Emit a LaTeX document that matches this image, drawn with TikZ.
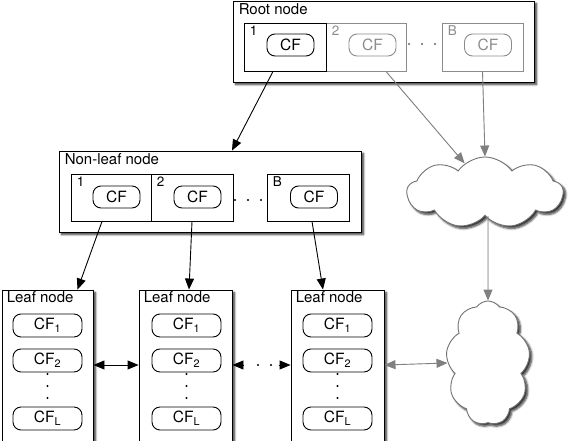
\documentclass[tikz,border=0pt]{standalone}
\usepackage{fontspec}
\setmainfont{TeX Gyre Heros}
\usetikzlibrary{arrows.meta}
\usetikzlibrary{shapes.symbols}
\usetikzlibrary{shadows.blur}
\usetikzlibrary{calc}

\tikzset{
	treenode/.style={draw=black, fill=white, line width=0.9pt, minimum width=#1, inner sep=0pt,
		blur shadow={shadow xshift=2.5pt, shadow yshift=-2.5pt, shadow blur steps=6, shadow opacity=80}},
	slotbox/.style={draw=black, fill=white, line width=0.9pt, minimum height=48pt, inner sep=0pt, minimum width=#1},
	cfbox/.style={draw=black, fill=white, line width=0.9pt, rounded corners=8pt, inner sep=0pt,
		minimum width=47pt, minimum height=22pt, font=\fontsize{15.5}{18}\selectfont},
	leafcf/.style={cfbox, minimum width=69pt, minimum height=23pt},
	titletext/.style={anchor=north west, inner sep=1pt, font=\fontsize{15}{17}\selectfont},
	slotnum/.style={anchor=north west, inner sep=1pt, font=\fontsize{13.5}{15}\selectfont},
	faded/.style={draw=black!45, text=black!45},
	cloudnode/.style={cloud, cloud puffs=9, cloud puff arc=110, draw=black!55, fill=white, line width=0.9pt, inner sep=0pt,
		blur shadow={shadow xshift=2.5pt, shadow yshift=-2.5pt, shadow blur steps=6, shadow opacity=80}},
	link/.style={->, line width=0.9pt},
	greylink/.style={->, line width=0.9pt, draw=black!50, fill=black!50}
}

\begin{document}
\begin{tikzpicture}[x=1pt, y=-1pt, >={Triangle[length=11pt, width=9pt]}]

	\useasboundingbox (0,0) rectangle (581,441);
	\clip (0,0) rectangle (581,441);

	%root node
	\node[treenode=301pt, minimum height=81pt] (root) at (383.5,41.5) {};
	\node[titletext] (RootLabel) at ($(root.north west)+(5,2)$) {Root node};
	\node[slotbox=80pt, faded] (rslot2) at (366,47) {};
	\node[slotbox=81pt, faded] (rslotB) at (482.5,47) {};
	\node[slotbox=82pt] (rslot1) at (285,47) {};
	\node[slotnum] at ($(rslot1.north west)+(5,2)$) {1};
	\node[slotnum, text=black!45] at ($(rslot2.north west)+(5,2)$) {2};
	\node[slotnum, text=black!45] at ($(rslotB.north west)+(5,2)$) {B};
	\node[cfbox] (rcf1) at (290.5,45) {CF};
	\node[cfbox, faded] (rcf2) at (372.5,45) {CF};
	\node[cfbox, faded] (rcfB) at (488,45) {CF};
	\fill[black!60] (409,44) circle (1.1);
	\fill[black!60] (422,44) circle (1.1);
	\fill[black!60] (435,44) circle (1.1);

	%non-leaf node
	\node[treenode=302pt, minimum height=81pt] (nonleaf) at (210,191.5) {};
	\node[titletext] (NonLeafLabel) at ($(nonleaf.north west)+(5,2)$) {Non-leaf node};
	\node[slotbox=82pt, minimum height=47pt] (nslot2) at (192,197.5) {};
	\node[slotbox=80pt, minimum height=47pt] (nslot1) at (111,197.5) {};
	\node[slotbox=82pt, minimum height=47pt] (nslotB) at (308,197.5) {};
	\node[slotnum] at ($(nslot1.north west)+(5,2)$) {1};
	\node[slotnum] at ($(nslot2.north west)+(5,2)$) {2};
	\node[slotnum] at ($(nslotB.north west)+(5,2)$) {B};
	\node[cfbox] (ncf1) at (116.5,197) {CF};
	\node[cfbox] (ncf2) at (197.5,197) {CF};
	\node[cfbox] (ncfB) at (314,197) {CF};
	\fill (235,200) circle (1.1);
	\fill (248,200) circle (1.1);
	\fill (261,200) circle (1.1);

	%leaf nodes
	\node[treenode=91pt, minimum height=170pt] (leaf1) at (47.5,375) {};
	\node[treenode=93pt, minimum height=170pt] (leaf2) at (185.5,375) {};
	\node[treenode=93pt, minimum height=170pt] (leaf3) at (337.5,375) {};
	\node[titletext] at ($(leaf1.north west)+(4,1)$) {Leaf node};
	\node[titletext] at ($(leaf2.north west)+(4,1)$) {Leaf node};
	\node[titletext] at ($(leaf3.north west)+(4,1)$) {Leaf node};

	\node[leafcf] (l1cf1) at (47.5,325.5) {CF\textsubscript{1}};
	\node[leafcf] (l1cf2) at (47.5,360.5) {CF\textsubscript{2}};
	\node[leafcf] (l1cfL) at (47.5,418.5) {CF\textsubscript{L}};
	\node[leafcf] (l2cf1) at (186.5,325.5) {CF\textsubscript{1}};
	\node[leafcf] (l2cf2) at (186.5,360.5) {CF\textsubscript{2}};
	\node[leafcf] (l2cfL) at (186.5,418.5) {CF\textsubscript{L}};
	\node[leafcf] (l3cf1) at (337.5,325.5) {CF\textsubscript{1}};
	\node[leafcf] (l3cf2) at (337.5,360.5) {CF\textsubscript{2}};
	\node[leafcf] (l3cfL) at (337.5,418.5) {CF\textsubscript{L}};

	%entries between CF_2 and CF_L
	\fill (47.5,374) circle (1.1);
	\fill (47.5,386) circle (1.1);
	\fill (47.5,398) circle (1.1);
	\fill (186.5,374) circle (1.1);
	\fill (186.5,386) circle (1.1);
	\fill (186.5,398) circle (1.1);
	\fill (337.5,374) circle (1.1);
	\fill (337.5,386) circle (1.1);
	\fill (337.5,398) circle (1.1);

	%clouds
	\node[cloudnode, minimum width=156pt, minimum height=71pt] (cloud1) at (485,192.5) {};
	\node[cloudnode, minimum width=84pt, minimum height=124pt] (cloud2) at (488,363) {};

	%child pointers
	\draw[link] ([xshift=-12pt]rslot1.south) -- ([xshift=22pt]nonleaf.north);
	\draw[greylink] ([xshift=20pt]rslot2.south) -- (cloud1.125);
	\draw[greylink] (rslotB.south) -- (cloud1.north);
	\draw[greylink] ([xshift=3pt]cloud1.south) -- (cloud2.north);
	\draw[link] ([xshift=-9pt]nslot1.south) -- ([xshift=30pt]leaf1.north);
	\draw[link] (nslot2.south) -- ([xshift=3.5pt]leaf2.north);
	\draw[link] ([xshift=4pt]nslotB.south) -- ([xshift=-14.5pt]leaf3.north);

	%leaf chain
	\draw[<->, line width=0.9pt] ([yshift=10pt]leaf1.east) -- ([yshift=10pt]leaf2.west);
	\coordinate (gapL) at ($([yshift=10pt]leaf2.east)+(12,0)$);
	\coordinate (gapR) at ($([yshift=10pt]leaf3.west)+(-12,0)$);
	\draw[<-, line width=0.9pt] ([yshift=10pt]leaf2.east) -- (gapL);
	\draw[->, line width=0.9pt] (gapR) -- ([yshift=10pt]leaf3.west);
	\fill (258,365) circle (1.1);
	\fill (271,365) circle (1.1);
	\draw[<->, line width=0.9pt, draw=black!50, fill=black!50] ([yshift=10pt]leaf3.east) -- (cloud2.west);
\end{tikzpicture}
\end{document}
